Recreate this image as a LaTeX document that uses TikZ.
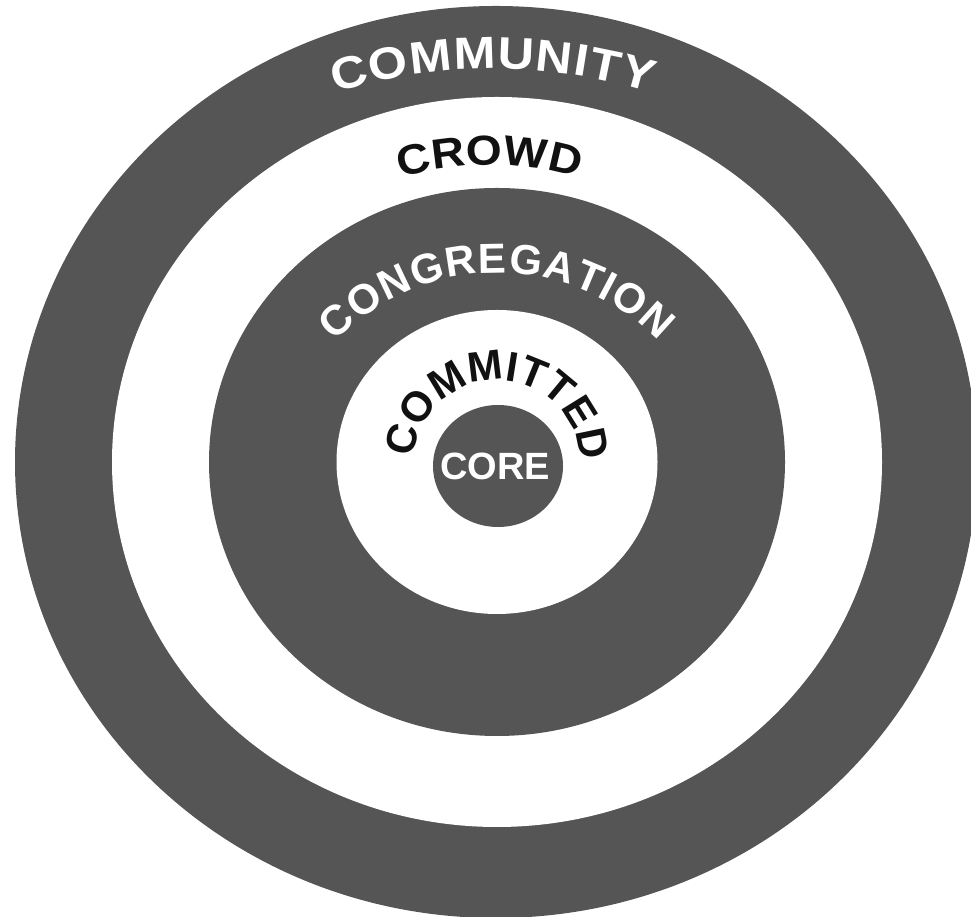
\documentclass[tikz,border=0pt]{standalone}
\usepackage{fontspec}
\setmainfont{Liberation Sans}
\newfontfamily\widesansA{Liberation Sans}[FakeStretch=1.12]
\newfontfamily\widesansB{Liberation Sans}[FakeStretch=1.10]
\usetikzlibrary{decorations.text}
\definecolor{ringgray}{RGB}{85,85,85}
\definecolor{inkblack}{RGB}{17,17,17}
\newcommand{\commfont}{\widesansA\fontsize{45}{45}\selectfont\bfseries}
\newcommand{\crowdfont}{\widesansB\fontsize{42}{42}\selectfont\bfseries}
\newcommand{\midfont}{\fontsize{42}{42}\selectfont\bfseries}
\begin{document}
\begin{tikzpicture}[x=1pt,y=1pt,
  darkring/.style={fill=ringgray, draw=none},
  lightring/.style={fill=white, draw=none}]
\useasboundingbox (0,0) rectangle (971,917);
\fill[white] (0,0) rectangle (971,917);
% rings
\coordinate (cOuter) at (496,455);
\coordinate (cRing) at (497,455);
\coordinate (cCore) at (498,451);
\path[darkring] (cOuter) ellipse[x radius=481pt, y radius=456pt];
\path[lightring] (cRing) ellipse[x radius=385pt, y radius=365pt];
\path[darkring] (cRing) ellipse[x radius=288pt, y radius=274pt];
\path[lightring] (cRing) ellipse[x radius=160.5pt, y radius=152pt];
\path[darkring] (cCore) ellipse[x radius=65pt, y radius=61pt];
% text arc centres
\coordinate (aComm) at (493,309);
\coordinate (aCrowd) at (490,433);
\coordinate (aCong) at (497,419);
\coordinate (aCommit) at (497,454);
\path[decorate, decoration={text along path, text align={fit to path}, text color=white,
  text={|\commfont|COMMUNITY}}]
  ([shift={(107:539pt)}]aComm) arc[start angle=107, end angle=73, radius=539pt];
\path[decorate, decoration={text along path, text align={fit to path}, text color=inkblack,
  text={|\crowdfont|CROWD}}]
  ([shift={(106.2:319pt)}]aCrowd) arc[start angle=106.2, end angle=73.9, radius=319pt];
\path[decorate, decoration={text along path, text align={fit to path}, text color=white,
  text={|\midfont|CONGREGATION}}]
  ([shift={(136:225pt)}]aCong) arc[start angle=136, end angle=44, radius=225pt];
\path[decorate, decoration={text along path, text align={fit to path}, text color=inkblack,
  text={|\midfont|COMMITTED}}]
  ([shift={(176.7:83pt)}]aCommit) arc[start angle=176.7, end angle=2, radius=83pt];
\node[text=white, inner sep=0pt, font=\fontsize{38}{38}\selectfont\bfseries] (coreLabel) at (495,451) {CORE};
\end{tikzpicture}
\end{document}
